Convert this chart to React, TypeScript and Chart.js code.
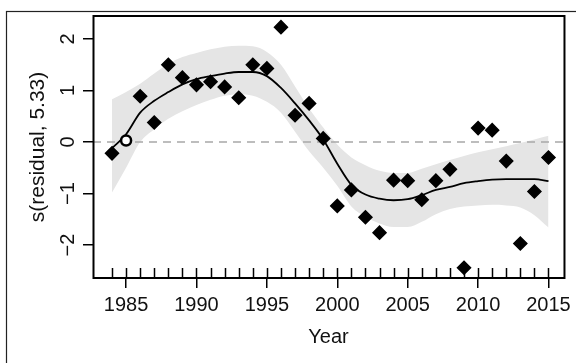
import React, { useEffect, useRef } from 'react';
import { Chart, registerables } from 'chart.js';

Chart.register(...registerables);

// ---- data ----
const years = [1984, 1985, 1986, 1987, 1988, 1989, 1990, 1991, 1992, 1993, 1994, 1995, 1996, 1997, 1998, 1999,
  2000, 2001, 2002, 2003, 2004, 2005, 2006, 2007, 2008, 2009, 2010, 2011, 2012, 2013, 2014, 2015];

const residuals = [-0.22, 0.03, 0.89, 0.38, 1.50, 1.25, 1.11, 1.17, 1.07, 0.86, 1.50, 1.43, 2.23, 0.52, 0.75, 0.07,
  -1.24, -0.93, -1.46, -1.76, -0.74, -0.75, -1.12, -0.75, -0.53, -2.44, 0.27, 0.23, -0.37, -1.97, -0.96, -0.30];

const fitted = [-0.12, 0.15, 0.57, 0.80, 0.97, 1.12, 1.22, 1.28, 1.33, 1.36, 1.36, 1.28, 1.05, 0.75, 0.42, 0.05,
  -0.42, -0.83, -1.02, -1.10, -1.13, -1.11, -1.03, -0.93, -0.87, -0.80, -0.76, -0.73, -0.72, -0.72, -0.72, -0.76];

const upperBand = [0.83, 0.97, 1.13, 1.33, 1.52, 1.65, 1.73, 1.80, 1.85, 1.87, 1.86, 1.75, 1.50, 1.08, 0.65, 0.28,
  -0.05, -0.30, -0.45, -0.56, -0.60, -0.60, -0.52, -0.43, -0.35, -0.27, -0.20, -0.14, -0.08, -0.02, 0.05, 0.12];

const lowerBand = [-0.98, -0.50, 0.00, 0.25, 0.45, 0.60, 0.72, 0.82, 0.90, 0.93, 0.90, 0.78, 0.57, 0.20, -0.18, -0.50,
  -0.85, -1.25, -1.45, -1.58, -1.65, -1.65, -1.55, -1.40, -1.30, -1.25, -1.23, -1.22, -1.23, -1.27, -1.42, -1.66];

const hollowYears = [1985];

const xTickValues = [1985, 1990, 1995, 2000, 2005, 2010, 2015];
const yTickValues = [-2, -1, 0, 1, 2];

const X_MIN = 1982.65;
const X_MAX = 2016.1;
const Y_MIN = -2.64;
const Y_MAX = 2.447;
const REF_LINE = 0;

const FONT = '"Liberation Sans", Arial, Helvetica, sans-serif';

const framePlugin = {
  id: 'rFrame',
  beforeDraw(chart: any) {
    const { ctx, width, height } = chart;
    ctx.save();
    ctx.fillStyle = '#ffffff';
    ctx.fillRect(0, 0, width, height);
    ctx.strokeStyle = '#222222';
    ctx.lineWidth = 1.2;
    ctx.strokeRect(6.5, 11.5, width + 60, height + 60);
    ctx.restore();
  },
  afterDraw(chart: any) {
    const { ctx, chartArea: ca, scales } = chart;
    ctx.save();
    ctx.strokeStyle = '#000000';
    ctx.lineWidth = 1.5;
    ctx.beginPath();
    years.forEach((yr) => {
      const px = Math.round(scales.x.getPixelForValue(yr)) + 0.5;
      ctx.moveTo(px, ca.bottom);
      ctx.lineTo(px, ca.bottom - 10);
    });
    ctx.stroke();
    ctx.lineWidth = 2;
    ctx.strokeRect(ca.left + 0.5, ca.top, ca.right - ca.left, ca.bottom - ca.top);
    ctx.restore();
  },
};

export default function App() {
  const canvasRef = useRef<HTMLCanvasElement | null>(null);

  useEffect(() => {
    if (!canvasRef.current) return;
    const pts = (arr: number[]) => years.map((x, i) => ({ x, y: arr[i] }));

    const chart = new Chart(canvasRef.current, {
      type: 'line',
      data: {
        datasets: [
          {
            label: 'upper',
            data: pts(upperBand),
            borderWidth: 0,
            pointRadius: 0,
            backgroundColor: 'rgb(229,229,229)',
            fill: '+1',
            tension: 0.4,
            cubicInterpolationMode: 'monotone',
            order: 4,
          } as any,
          {
            label: 'lower',
            data: pts(lowerBand),
            borderWidth: 0,
            pointRadius: 0,
            fill: false,
            tension: 0.4,
            cubicInterpolationMode: 'monotone',
            order: 3,
          } as any,
          {
            label: 'zero',
            data: [{ x: X_MIN, y: REF_LINE }, { x: X_MAX, y: REF_LINE }],
            borderColor: '#a8a8a8',
            borderWidth: 1.5,
            borderDash: [8, 6],
            pointRadius: 0,
            fill: false,
            order: 2,
          },
          {
            label: 'fit',
            data: pts(fitted),
            borderColor: '#000000',
            borderWidth: 1.8,
            pointRadius: 0,
            fill: false,
            cubicInterpolationMode: 'monotone',
            order: 1,
          } as any,
          {
            label: 'residuals',
            data: pts(residuals),
            showLine: false,
            pointStyle: (c: any) => (hollowYears.includes(years[c.dataIndex]) ? 'circle' : 'rectRot'),
            pointRadius: (c: any) => (hollowYears.includes(years[c.dataIndex]) ? 5 : 6.5),
            pointBackgroundColor: (c: any) => (hollowYears.includes(years[c.dataIndex]) ? '#ffffff' : '#000000'),
            pointBorderColor: '#000000',
            pointBorderWidth: (c: any) => (hollowYears.includes(years[c.dataIndex]) ? 2.5 : 1.5),
            order: 0,
          } as any,
        ],
      },
      options: {
        animation: false,
        responsive: false,
        devicePixelRatio: 1,
        layout: { padding: { left: 0, top: 16, right: 5, bottom: 0 } },
        plugins: {
          legend: { display: false },
          tooltip: { enabled: false },
        },
        scales: {
          x: {
            type: 'linear',
            min: X_MIN,
            max: X_MAX,
            afterBuildTicks: (s: any) => {
              s.ticks = xTickValues.map((v) => ({ value: v }));
            },
            afterFit: (s: any) => {
              s.height = 85;
            },
            ticks: {
              autoSkip: false,
              maxRotation: 0,
              minRotation: 0,
              padding: 5,
              color: '#111111',
              font: { family: FONT, size: 20 },
              callback: (v: any) => String(v),
            },
            grid: {
              drawOnChartArea: false,
              drawTicks: true,
              tickLength: 10,
              color: '#000000',
              lineWidth: 1.5,
            },
            border: { display: false },
            title: {
              display: true,
              text: 'Year',
              color: '#111111',
              font: { family: FONT, size: 20 },
              padding: { top: 0, bottom: 14 },
            },
          },
          y: {
            type: 'linear',
            min: Y_MIN,
            max: Y_MAX,
            afterBuildTicks: (s: any) => {
              s.ticks = yTickValues.map((v) => ({ value: v }));
            },
            afterFit: (s: any) => {
              s.width = 93;
            },
            ticks: {
              autoSkip: false,
              minRotation: 90,
              maxRotation: 90,
              crossAlign: 'center',
              padding: 3,
              color: '#111111',
              font: { family: FONT, size: 20 },
              callback: (v: any) => String(v).replace('-', '\u2212'),
            },
            grid: {
              drawOnChartArea: false,
              drawTicks: true,
              tickLength: 10,
              color: '#000000',
              lineWidth: 1.5,
            },
            border: { display: false },
            title: {
              display: true,
              text: 's(residual, 5.33)',
              color: '#111111',
              font: { family: FONT, size: 21 },
              padding: { top: 26, bottom: 0 },
            },
          },
        },
      } as any,
      plugins: [framePlugin],
    });

    return () => {
      chart.destroy();
    };
  }, []);

  return (
    <div style={{ position: 'absolute', left: 0, top: 0, width: 576, height: 363, background: '#fff' }}>
      <canvas ref={canvasRef} width={576} height={363} style={{ display: 'block' }} />
    </div>
  );
}
